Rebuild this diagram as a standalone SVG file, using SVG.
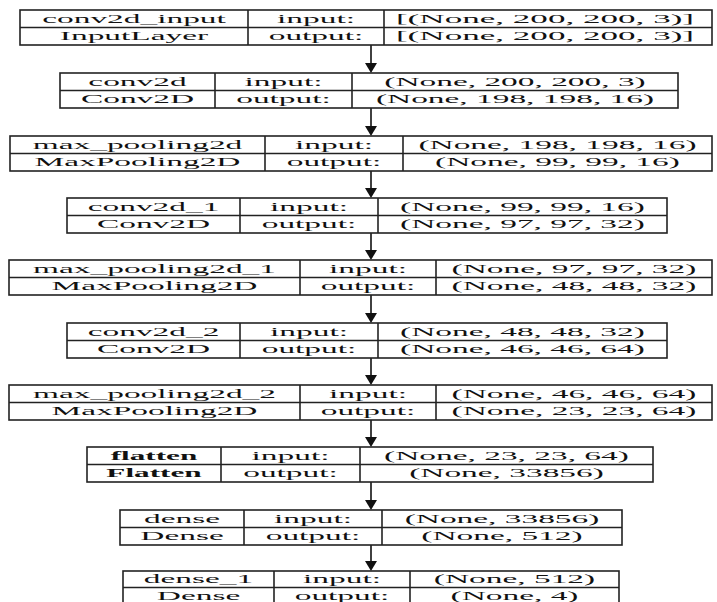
<svg xmlns="http://www.w3.org/2000/svg" width="717" height="602" viewBox="0 0 717 602">
<style>
.b{fill:#fff;stroke:#222;stroke-width:1.6}
.l{stroke:#222;stroke-width:1.6}
.t{font-family:"Liberation Serif","Times New Roman",serif;font-size:13px;fill:#111;text-anchor:middle}
.bd{font-weight:bold}
.c{stroke:#111;stroke-width:1.6;fill:none}
.h{fill:#111}
</style>
<rect width="717" height="602" fill="#fff"/>
<g id="connectors">
<line class="c" x1="371" y1="45" x2="371" y2="65"/><polygon class="h" points="365,63 377,63 371,73"/>
<line class="c" x1="371" y1="108" x2="371" y2="128"/><polygon class="h" points="365,126 377,126 371,136"/>
<line class="c" x1="371" y1="171" x2="371" y2="190"/><polygon class="h" points="365,188 377,188 371,198"/>
<line class="c" x1="371" y1="233" x2="371" y2="252"/><polygon class="h" points="365,250 377,250 371,260"/>
<line class="c" x1="371" y1="295" x2="371" y2="315"/><polygon class="h" points="365,313 377,313 371,323"/>
<line class="c" x1="371" y1="358" x2="371" y2="377"/><polygon class="h" points="365,375 377,375 371,385"/>
<line class="c" x1="371" y1="420" x2="371" y2="439"/><polygon class="h" points="365,437 377,437 371,447"/>
<line class="c" x1="371" y1="482" x2="371" y2="502"/><polygon class="h" points="365,500 377,500 371,510"/>
<line class="c" x1="371" y1="545" x2="371" y2="563"/><polygon class="h" points="365,561 377,561 371,571"/>
</g>
<g id="conv2d_input">
<rect class="b" x="20" y="10" width="692" height="35"/>
<line class="l" x1="20" y1="27.5" x2="712" y2="27.5"/>
<line class="l" x1="248" y1="10" x2="248" y2="45"/><line class="l" x1="384" y1="10" x2="384" y2="45"/>
<text class="t" transform="matrix(2.57 0 0 1 134 22.5)">conv2d_input</text>
<text class="t" transform="matrix(2.57 0 0 1 134 40)">InputLayer</text>
<text class="t" transform="matrix(2.57 0 0 1 316 22.5)">input:</text>
<text class="t" transform="matrix(2.57 0 0 1 316 40)">output:</text>
<text class="t" transform="matrix(2.7 0 0 1 545 22.5)">[(None, 200, 200, 3)]</text>
<text class="t" transform="matrix(2.7 0 0 1 545 40)">[(None, 200, 200, 3)]</text>
</g>
<g id="conv2d">
<rect class="b" x="60" y="73" width="618" height="35"/>
<line class="l" x1="60" y1="90.5" x2="678" y2="90.5"/>
<line class="l" x1="215" y1="73" x2="215" y2="108"/><line class="l" x1="352" y1="73" x2="352" y2="108"/>
<text class="t" transform="matrix(2.57 0 0 1 137.5 85.5)">conv2d</text>
<text class="t" transform="matrix(2.57 0 0 1 137.5 103)">Conv2D</text>
<text class="t" transform="matrix(2.57 0 0 1 283.5 85.5)">input:</text>
<text class="t" transform="matrix(2.57 0 0 1 283.5 103)">output:</text>
<text class="t" transform="matrix(2.57 0 0 1 515 85.5)">(None, 200, 200, 3)</text>
<text class="t" transform="matrix(2.57 0 0 1 515 103)">(None, 198, 198, 16)</text>
</g>
<g id="max_pooling2d">
<rect class="b" x="10" y="136" width="702" height="35"/>
<line class="l" x1="10" y1="153.5" x2="712" y2="153.5"/>
<line class="l" x1="265" y1="136" x2="265" y2="171"/><line class="l" x1="403" y1="136" x2="403" y2="171"/>
<text class="t" transform="matrix(2.57 0 0 1 137.5 148.5)">max_pooling2d</text>
<text class="t" transform="matrix(2.57 0 0 1 137.5 166)">MaxPooling2D</text>
<text class="t" transform="matrix(2.57 0 0 1 334 148.5)">input:</text>
<text class="t" transform="matrix(2.57 0 0 1 334 166)">output:</text>
<text class="t" transform="matrix(2.57 0 0 1 557.5 148.5)">(None, 198, 198, 16)</text>
<text class="t" transform="matrix(2.57 0 0 1 557.5 166)">(None, 99, 99, 16)</text>
</g>
<g id="conv2d_1">
<rect class="b" x="67" y="198" width="600" height="35"/>
<line class="l" x1="67" y1="215.5" x2="667" y2="215.5"/>
<line class="l" x1="240" y1="198" x2="240" y2="233"/><line class="l" x1="378" y1="198" x2="378" y2="233"/>
<text class="t" transform="matrix(2.57 0 0 1 153.5 210.5)">conv2d_1</text>
<text class="t" transform="matrix(2.57 0 0 1 153.5 228)">Conv2D</text>
<text class="t" transform="matrix(2.57 0 0 1 309 210.5)">input:</text>
<text class="t" transform="matrix(2.57 0 0 1 309 228)">output:</text>
<text class="t" transform="matrix(2.57 0 0 1 522.5 210.5)">(None, 99, 99, 16)</text>
<text class="t" transform="matrix(2.57 0 0 1 522.5 228)">(None, 97, 97, 32)</text>
</g>
<g id="max_pooling2d_1">
<rect class="b" x="9" y="260" width="703" height="35"/>
<line class="l" x1="9" y1="277.5" x2="712" y2="277.5"/>
<line class="l" x1="300" y1="260" x2="300" y2="295"/><line class="l" x1="436" y1="260" x2="436" y2="295"/>
<text class="t" transform="matrix(2.57 0 0 1 154.5 272.5)">max_pooling2d_1</text>
<text class="t" transform="matrix(2.57 0 0 1 154.5 290)">MaxPooling2D</text>
<text class="t" transform="matrix(2.57 0 0 1 368 272.5)">input:</text>
<text class="t" transform="matrix(2.57 0 0 1 368 290)">output:</text>
<text class="t" transform="matrix(2.57 0 0 1 574 272.5)">(None, 97, 97, 32)</text>
<text class="t" transform="matrix(2.57 0 0 1 574 290)">(None, 48, 48, 32)</text>
</g>
<g id="conv2d_2">
<rect class="b" x="67" y="323" width="600" height="35"/>
<line class="l" x1="67" y1="340.5" x2="667" y2="340.5"/>
<line class="l" x1="240" y1="323" x2="240" y2="358"/><line class="l" x1="378" y1="323" x2="378" y2="358"/>
<text class="t" transform="matrix(2.57 0 0 1 153.5 335.5)">conv2d_2</text>
<text class="t" transform="matrix(2.57 0 0 1 153.5 353)">Conv2D</text>
<text class="t" transform="matrix(2.57 0 0 1 309 335.5)">input:</text>
<text class="t" transform="matrix(2.57 0 0 1 309 353)">output:</text>
<text class="t" transform="matrix(2.57 0 0 1 522.5 335.5)">(None, 48, 48, 32)</text>
<text class="t" transform="matrix(2.57 0 0 1 522.5 353)">(None, 46, 46, 64)</text>
</g>
<g id="max_pooling2d_2">
<rect class="b" x="9" y="385" width="703" height="35"/>
<line class="l" x1="9" y1="402.5" x2="712" y2="402.5"/>
<line class="l" x1="300" y1="385" x2="300" y2="420"/><line class="l" x1="436" y1="385" x2="436" y2="420"/>
<text class="t" transform="matrix(2.57 0 0 1 154.5 397.5)">max_pooling2d_2</text>
<text class="t" transform="matrix(2.57 0 0 1 154.5 415)">MaxPooling2D</text>
<text class="t" transform="matrix(2.57 0 0 1 368 397.5)">input:</text>
<text class="t" transform="matrix(2.57 0 0 1 368 415)">output:</text>
<text class="t" transform="matrix(2.57 0 0 1 574 397.5)">(None, 46, 46, 64)</text>
<text class="t" transform="matrix(2.57 0 0 1 574 415)">(None, 23, 23, 64)</text>
</g>
<g id="flatten">
<rect class="b" x="87" y="447" width="566" height="35"/>
<line class="l" x1="87" y1="464.5" x2="653" y2="464.5"/>
<line class="l" x1="221" y1="447" x2="221" y2="482"/><line class="l" x1="360" y1="447" x2="360" y2="482"/>
<text class="t bd" transform="matrix(2.4 0 0 1 154 459.5)">flatten</text>
<text class="t bd" transform="matrix(2.4 0 0 1 154 477)">Flatten</text>
<text class="t" transform="matrix(2.57 0 0 1 290.5 459.5)">input:</text>
<text class="t" transform="matrix(2.57 0 0 1 290.5 477)">output:</text>
<text class="t" transform="matrix(2.57 0 0 1 506.5 459.5)">(None, 23, 23, 64)</text>
<text class="t" transform="matrix(2.57 0 0 1 506.5 477)">(None, 33856)</text>
</g>
<g id="dense">
<rect class="b" x="120" y="510" width="502" height="35"/>
<line class="l" x1="120" y1="527.5" x2="622" y2="527.5"/>
<line class="l" x1="244" y1="510" x2="244" y2="545"/><line class="l" x1="382" y1="510" x2="382" y2="545"/>
<text class="t" transform="matrix(2.57 0 0 1 182 522.5)">dense</text>
<text class="t" transform="matrix(2.57 0 0 1 182 540)">Dense</text>
<text class="t" transform="matrix(2.57 0 0 1 313 522.5)">input:</text>
<text class="t" transform="matrix(2.57 0 0 1 313 540)">output:</text>
<text class="t" transform="matrix(2.57 0 0 1 502 522.5)">(None, 33856)</text>
<text class="t" transform="matrix(2.57 0 0 1 502 540)">(None, 512)</text>
</g>
<g id="dense_1">
<rect class="b" x="123" y="571" width="496" height="35"/>
<line class="l" x1="123" y1="587.5" x2="619" y2="587.5"/>
<line class="l" x1="274" y1="571" x2="274" y2="606"/><line class="l" x1="410" y1="571" x2="410" y2="606"/>
<text class="t" transform="matrix(2.57 0 0 1 198.5 583)">dense_1</text>
<text class="t" transform="matrix(2.57 0 0 1 198.5 599.5)">Dense</text>
<text class="t" transform="matrix(2.57 0 0 1 342 583)">input:</text>
<text class="t" transform="matrix(2.57 0 0 1 342 599.5)">output:</text>
<text class="t" transform="matrix(2.57 0 0 1 514.5 583)">(None, 512)</text>
<text class="t" transform="matrix(2.57 0 0 1 514.5 599.5)">(None, 4)</text>
</g>
</svg>
